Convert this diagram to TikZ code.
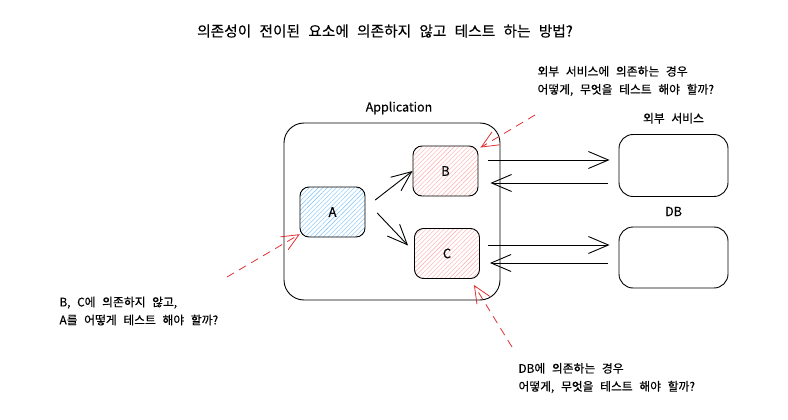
\documentclass[tikz,border=0pt]{standalone}
\usepackage{fontspec}
\setmainfont{Noto Sans CJK KR}[WordSpace=2.5,FakeBold=0.3]
\usetikzlibrary{arrows.meta,patterns.meta,positioning}
\definecolor{hatchblue}{HTML}{74C0FC}
\definecolor{hatchred}{HTML}{FFA8A8}
\definecolor{askred}{HTML}{E03131}
\pgfmathsetmacro{\hatchgap}{3.2}

\begin{document}
\begin{tikzpicture}[x=1pt,y=-1pt,
        part/.style={draw, line width=0.9pt, rounded corners=9pt, minimum width=65pt, minimum height=50pt,
            pattern={Lines[angle=45,distance=\hatchgap pt,line width=0.4pt]}, font=\fontsize{13}{14}\selectfont},
        service/.style={draw, line width=0.9pt, rounded corners=14pt, minimum width=109pt, minimum height=62pt},
        flow/.style={line width=0.9pt, -{Straight Barb[length=20pt,width=17pt,line width=0.9pt]}},
        ask/.style={askred, line width=0.8pt, dash pattern=on 8pt off 6pt, -{Straight Barb[length=17pt,width=15pt,line width=0.8pt]}},
        note/.style={anchor=west, align=left, font=\fontsize{11.8}{18}\selectfont}]
    \fill[white] (0,0) rectangle (788,420);
    \useasboundingbox (0,0) rectangle (788,420);

    \node[font=\fontsize{14.7}{18}\selectfont] (title) at (385,31) {의존성이 전이된 요소에 의존하지 않고 테스트 하는 방법?};

    % application and its parts
    \node[draw, line width=0.9pt, rounded corners=20pt, minimum width=216pt, minimum height=177pt] (app) at (392,211.5) {};
    \node[font=\fontsize{12.5}{14}\selectfont] (applabel) at (399,108) {Application};
    \node[part, pattern color=hatchblue] (a) at (332.5,212) {A};
    \node[part, pattern color=hatchred] (b) at (445.5,171) {B};
    \node[part, pattern color=hatchred] (c) at (447,253.5) {C};

    % outside
    \node[service] (ext) at (673.5,165.5) {};
    \node[font=\fontsize{11.8}{14}\selectfont, above=7pt of ext] (extlabel) {외부 서비스};
    \node[service, minimum height=61pt] (db) at (673.5,257.5) {};
    \node[font=\fontsize{12.5}{14}\selectfont, above=7pt of db] (dblabel) {DB};

    \draw[flow] ([xshift=10pt,yshift=12pt]a.east) -- (b.west);
    \draw[flow] ([xshift=12pt,yshift=-1pt]a.east) -- ([xshift=-6pt,yshift=8pt]c.west);
    \draw[flow] ([xshift=10pt,yshift=11pt]b.east) -- ([xshift=-9pt,yshift=5.5pt]ext.west);
    \draw[flow] ([xshift=-11pt,yshift=-17.5pt]ext.west) -- ([xshift=12pt,yshift=-12pt]b.east);
    \draw[flow] ([xshift=8pt,yshift=8.5pt]c.east) -- ([xshift=-9pt,yshift=12.5pt]db.west);
    \draw[flow] ([xshift=-11pt,yshift=-5.5pt]db.west) -- ([xshift=10pt,yshift=-9.5pt]c.east);

    % questions
    \node[note] (qext) at (534,81) {외부 서비스에 의존하는 경우\\어떻게, 무엇을 테스트 해야 할까?};
    \node[note] (qa) at (56,311) {B, C에 의존하지 않고,\\A를 어떻게 테스트 해야 할까?};
    \node[note] (qdb) at (515,378) {DB에 의존하는 경우\\어떻게, 무엇을 테스트 해야 할까?};
    \coordinate (p1) at (535,115);
    \coordinate (p2) at (227,277);
    \coordinate (p3) at (512,347);
    \draw[ask] (p1) -- ([xshift=2pt,yshift=-2pt]b.north east);
    \draw[ask] (p2) -- ([yshift=3pt]a.south west);
    \draw[ask] (p3) -- ([xshift=-6pt,yshift=-6pt]c.south east);
\end{tikzpicture}
\end{document}
